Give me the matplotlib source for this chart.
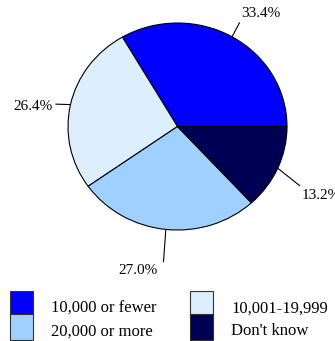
import matplotlib
matplotlib.use("Agg")
import matplotlib.pyplot as plt
from matplotlib.patches import Rectangle
from matplotlib.legend_handler import HandlerPatch
import numpy as np

labels = ["10,000 or fewer", "10,001-19,999", "20,000 or more", "Don't know"]
shares = [33.4, 26.4, 27.0, 13.2]
colors = ["#0000FF", "#DDEEFF", "#A0D0FF", "#000055"]

plt.rcParams['font.family'] = ['Liberation Serif', 'DejaVu Serif']

fig = plt.figure(figsize=(3.35, 3.41), dpi=100)
# pie is slightly squashed in the original, so no equal aspect
ax = fig.add_axes([0.203, 0.3255, 0.6537, 0.607])

wedges, _ = ax.pie(shares, colors=colors, startangle=0, counterclock=True,
                   wedgeprops=dict(edgecolor='black', linewidth=0.8))
ax.set_xlim(-1, 1)
ax.set_ylim(-1, 1)
ax.set_aspect('auto')
ax.axis('off')

# label text positions (axes data units), same order as shares
label_pos = [(0.58, 1.03), (-1.137, 0.198), (-0.361, -1.396), (1.137, -0.662)]
label_ha = ['left', 'right', 'center', 'left']
label_va = ['bottom', 'center', 'center', 'center']
relpos = [(0, 0), (1, 0.65), (1.15, 1.2), (-0.05, 1.2)]

for w, s, pos, ha, va, rp in zip(wedges, shares, label_pos, label_ha, label_va, relpos):
    ang = np.deg2rad((w.theta1 + w.theta2) / 2)
    ax.annotate("%.1f%%" % s, xy=(np.cos(ang), np.sin(ang)), xytext=pos,
                ha=ha, va=va, fontsize=11, annotation_clip=False,
                arrowprops=dict(arrowstyle='-', color='black', lw=0.8,
                                shrinkA=0, shrinkB=0, relpos=rp))


def swatch(legend, orig_handle, xdescent, ydescent, width, height, fontsize):
    # fill the whole handle box, minus a small gap between rows
    return Rectangle((-xdescent, -ydescent + 0.7), width, height + ydescent - 1.4)


order = [0, 2, 1, 3]
leg = fig.legend([wedges[i] for i in order], [labels[i] for i in order],
                 ncol=2, loc='upper left', bbox_to_anchor=(10 / 335, 1 - 296 / 341),
                 frameon=False, fontsize=12, borderpad=0, borderaxespad=0,
                 handlelength=1.35, handleheight=1.7, handletextpad=1.1,
                 columnspacing=2.04, labelspacing=0.0,
                 handler_map={matplotlib.patches.Wedge: HandlerPatch(patch_func=swatch)})
for p in leg.get_patches():
    p.set_edgecolor('#333333')

fig.savefig("out.png", dpi=100)
